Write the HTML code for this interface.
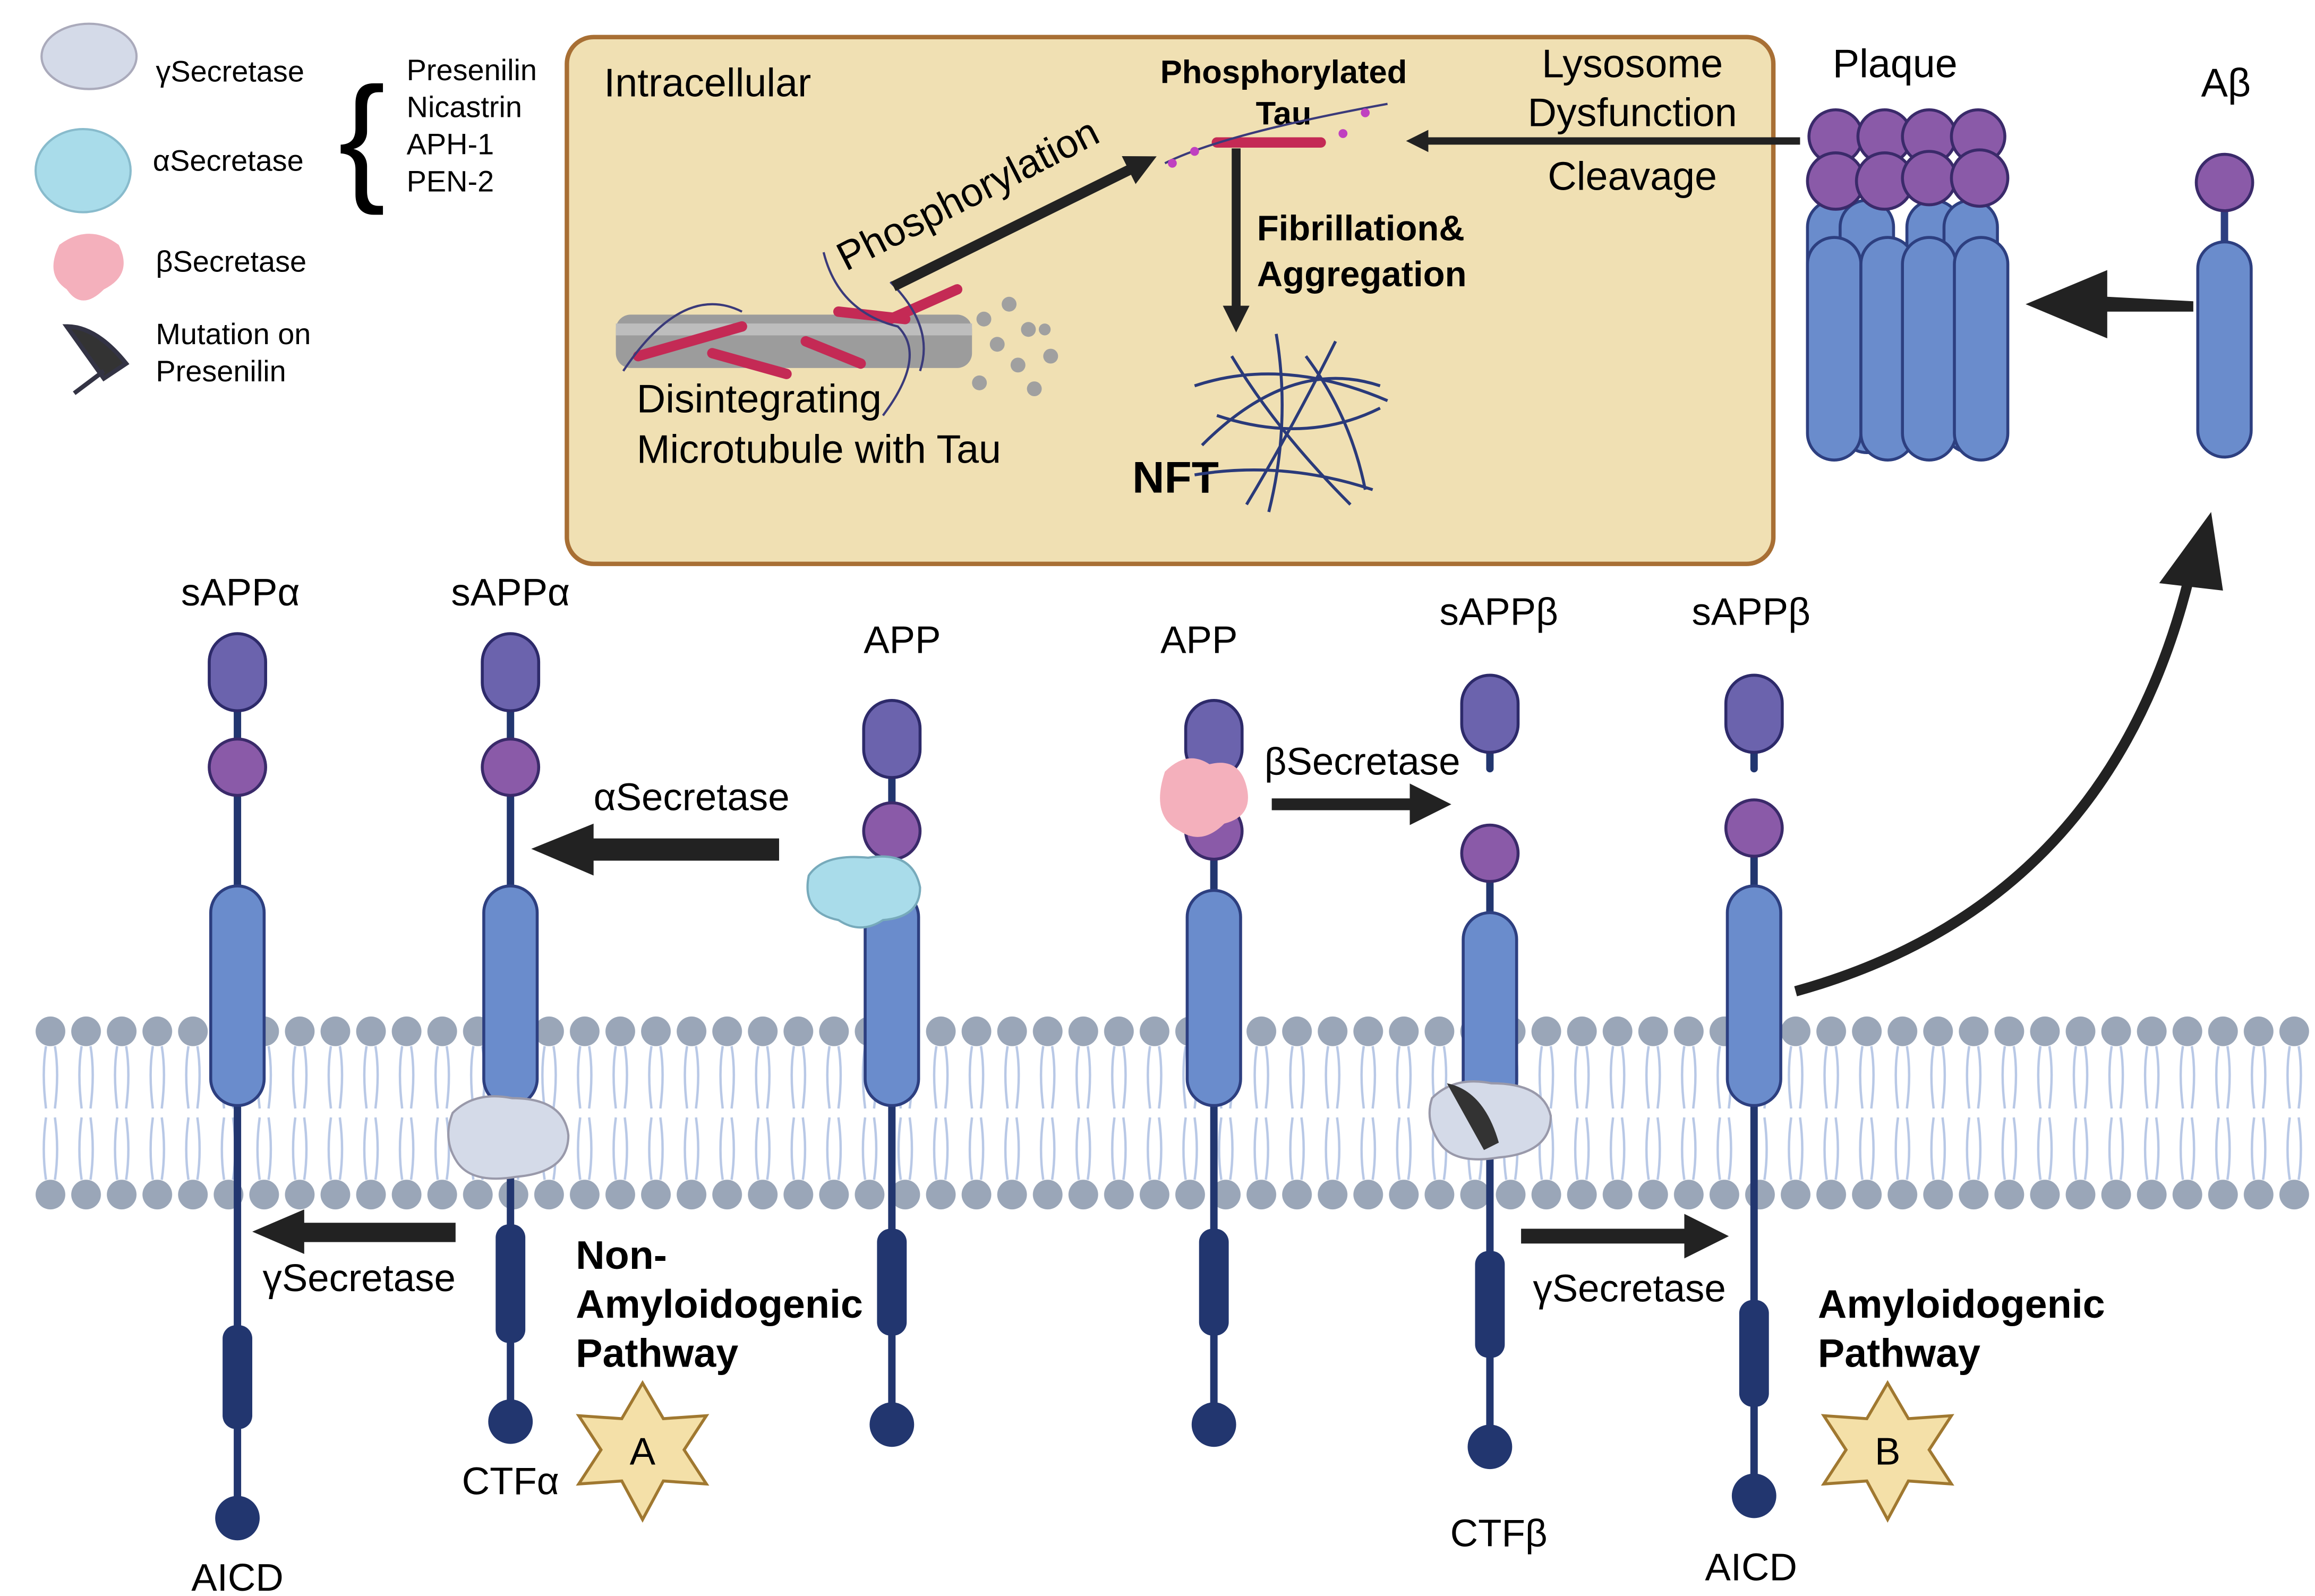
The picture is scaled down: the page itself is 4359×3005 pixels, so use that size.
<!DOCTYPE html>
<html><head><meta charset="utf-8"><style>html,body{margin:0;padding:0;background:#fff}svg{display:block}text{font-family:"Liberation Sans",sans-serif}</style></head>
<body>
<svg width="4359" height="3005" viewBox="0 0 1560 1075.5" preserveAspectRatio="none" xmlns="http://www.w3.org/2000/svg">
<defs>
<pattern id="mem" x="22" y="0" width="24" height="1075.5" patternUnits="userSpaceOnUse">
<path d="M9,705 q-3,18 0,42 M15,705 q3,18 0,42 M9,753 q-3,22 0,42 M15,753 q3,22 0,42" stroke="#b8c8e6" stroke-width="1.6" fill="none"/>
<circle cx="12" cy="695" r="10" fill="#9aa6b8"/>
<circle cx="12" cy="805" r="10" fill="#9aa6b8"/>
</pattern>
<marker id="ah" viewBox="0 0 10 10" refX="5" refY="5" markerWidth="3" markerHeight="3" orient="auto"><path d="M0,0L10,5L0,10z" fill="#222"/></marker>
</defs>
<rect x="0" y="0" width="1560" height="1075.5" fill="#fff"/>
<!-- intracellular box -->
<rect x="382" y="25" width="813" height="355" rx="18" fill="#f0e0b3" stroke="#a86f34" stroke-width="3"/>
<text x="407" y="65" font-size="27">Intracellular</text>
<text x="865" y="56" font-size="22" font-weight="bold" text-anchor="middle">Phosphorylated</text>
<text x="865" y="84" font-size="22" font-weight="bold" text-anchor="middle">Tau</text>
<text x="1100" y="52" font-size="27" text-anchor="middle">Lysosome</text>
<text x="1100" y="85" font-size="27" text-anchor="middle">Dysfunction</text>
<text x="1100" y="128" font-size="27" text-anchor="middle">Cleavage</text>
<text x="847" y="162" font-size="24" font-weight="bold">Fibrillation&amp;</text>
<text x="847" y="193" font-size="24" font-weight="bold">Aggregation</text>
<text x="429" y="278" font-size="27">Disintegrating</text>
<text x="429" y="312" font-size="27">Microtubule with Tau</text>
<text x="763" y="332" font-size="30" font-weight="bold">NFT</text>
<text x="0" y="0" font-size="27" transform="translate(570,183) rotate(-27)">Phosphorylation</text>
<!-- microtubule -->
<rect x="415" y="212" width="240" height="36" rx="10" fill="#9c9c9c"/>
<rect x="415" y="218" width="240" height="8" fill="#bdbdbd"/>
<g fill="#a0a0a0"><circle cx="663" cy="215" r="5"/><circle cx="680" cy="205" r="5"/><circle cx="672" cy="232" r="5"/><circle cx="693" cy="222" r="5"/><circle cx="686" cy="246" r="5"/><circle cx="708" cy="240" r="5"/><circle cx="660" cy="258" r="5"/><circle cx="697" cy="262" r="5"/><circle cx="704" cy="222" r="4"/></g>
<g stroke="#c42a55" stroke-width="7" stroke-linecap="round"><line x1="430" y1="240" x2="500" y2="220"/><line x1="480" y1="238" x2="530" y2="252"/><line x1="543" y1="230" x2="580" y2="245"/><line x1="565" y1="210" x2="610" y2="215"/><line x1="600" y1="215" x2="645" y2="195"/><line x1="820" y1="96" x2="890" y2="96"/></g>
<path d="M420,250 q40,-60 80,-40 M555,170 q10,40 50,50 q20,20 -10,60 M600,190 q30,30 20,60 M785,110 q40,-20 150,-40" stroke="#3a3a7a" stroke-width="1.5" fill="none"/>
<g fill="#c040c0"><circle cx="790" cy="110" r="3"/><circle cx="805" cy="102" r="3"/><circle cx="905" cy="90" r="3"/><circle cx="920" cy="76" r="3"/></g>
<!-- NFT tangle -->
<g stroke="#2a3a7a" stroke-width="2" fill="none"><path d="M805,260 q60,-20 130,10 M810,300 q60,-60 120,-40 M830,240 q30,50 80,100 M900,230 q-30,60 -60,110 M820,280 q60,20 110,-5 M860,225 q10,60 -5,120 M805,320 q60,-10 120,10 M880,240 q30,40 40,90"/></g>
<!-- tau arrows -->
<line x1="602" y1="193" x2="770" y2="110" stroke="#222" stroke-width="7" marker-end="url(#ah)"/>
<line x1="1213" y1="95" x2="955" y2="95" stroke="#222" stroke-width="5" marker-end="url(#ah)"/>
<line x1="833" y1="100" x2="833" y2="215" stroke="#222" stroke-width="6" marker-end="url(#ah)"/>
<!-- legend -->
<ellipse cx="60" cy="38" rx="32" ry="22" fill="#d4dae8" stroke="#aab" stroke-width="1.5"/>
<text x="105" y="55" font-size="20">γSecretase</text>
<ellipse cx="56" cy="115" rx="32" ry="28" fill="#a9dcea" stroke="#8bc" stroke-width="1.5"/>
<text x="103" y="115" font-size="20">αSecretase</text>
<path d="M40,165 q20,-15 40,0 q10,20 -10,30 q-15,15 -25,0 q-15,-10 -5,-30z" fill="#f4b0bc"/>
<text x="105" y="183" font-size="20">βSecretase</text>
<path d="M45,220 q20,0 40,25 l-15,10 z M70,250 l-20,15" stroke="#334" stroke-width="3" fill="#333"/>
<text x="105" y="232" font-size="20">Mutation on</text>
<text x="105" y="257" font-size="20">Presenilin</text>
<text x="228" y="125" font-size="95" font-weight="300">{</text>
<text x="274" y="54" font-size="20">Presenilin</text>
<text x="274" y="79" font-size="20">Nicastrin</text>
<text x="274" y="104" font-size="20">APH-1</text>
<text x="274" y="129" font-size="20">PEN-2</text>
<!-- plaque -->
<g fill="#6a8ccc" stroke="#2d3f80" stroke-width="2">
<rect x="1218" y="135" width="36" height="170" rx="18"/><rect x="1240" y="135" width="36" height="170" rx="18"/><rect x="1285" y="135" width="36" height="170" rx="18"/><rect x="1310" y="135" width="36" height="170" rx="18"/>
<rect x="1218" y="160" width="36" height="150" rx="18"/><rect x="1254" y="160" width="36" height="150" rx="18"/><rect x="1282" y="160" width="36" height="150" rx="18"/><rect x="1317" y="160" width="36" height="150" rx="18"/>
</g>
<g fill="#8a5aa8" stroke="#3a2a6a" stroke-width="2">
<circle cx="1237" cy="92" r="18"/><circle cx="1270" cy="92" r="18"/><circle cx="1300" cy="92" r="18"/><circle cx="1333" cy="92" r="18"/>
<circle cx="1237" cy="122" r="19"/><circle cx="1270" cy="122" r="19"/><circle cx="1300" cy="120" r="18"/><circle cx="1334" cy="120" r="19"/>
</g>
<text x="1277" y="52" font-size="27" text-anchor="middle">Plaque</text>
<text x="1500" y="65" font-size="27" text-anchor="middle">Aβ</text>
<line x1="1499" y1="140" x2="1499" y2="165" stroke="#2d3f80" stroke-width="5"/>
<circle cx="1499" cy="123" r="19" fill="#8a5aa8" stroke="#3a2a6a" stroke-width="2"/>
<rect x="1481" y="163" width="36" height="145" rx="18" fill="#6a8ccc" stroke="#2d3f80" stroke-width="2"/>
<path d="M1478,203 L1420,200 L1420,182 L1365,205 L1420,228 L1420,210 L1478,210z" fill="#222"/>
<!-- curved arrow -->
<path d="M1210,668 Q1420,610 1475,390" stroke="#222" stroke-width="7" fill="none"/>
<path d="M1455,393 L1490,345 L1498,398z" fill="#222"/>
<!-- membrane -->
<rect x="22" y="680" width="1536" height="140" fill="url(#mem)"/>
<!-- columns -->
<g stroke="#22366f" stroke-width="5" stroke-linecap="round">
<line x1="160" y1="470" x2="160" y2="1020"/><line x1="344" y1="470" x2="344" y2="955"/>
<line x1="601" y1="520" x2="601" y2="958"/><line x1="818" y1="520" x2="818" y2="958"/>
<line x1="1004" y1="500" x2="1004" y2="518"/><line x1="1004" y1="590" x2="1004" y2="972"/>
<line x1="1182" y1="500" x2="1182" y2="518"/><line x1="1182" y1="575" x2="1182" y2="1005"/>
</g>
<g fill="#22366f">
<circle cx="160" cy="1023" r="15"/><rect x="150" y="893" width="20" height="70" rx="9"/>
<circle cx="344" cy="958" r="15"/><rect x="334" y="825" width="20" height="80" rx="9"/>
<circle cx="601" cy="960" r="15"/><rect x="591" y="828" width="20" height="72" rx="9"/>
<circle cx="818" cy="960" r="15"/><rect x="808" y="828" width="20" height="72" rx="9"/>
<circle cx="1004" cy="975" r="15"/><rect x="994" y="843" width="20" height="72" rx="9"/>
<circle cx="1182" cy="1008" r="15"/><rect x="1172" y="876" width="20" height="72" rx="9"/>
</g>
<g fill="#6b63ad" stroke="#2d2a6a" stroke-width="2">
<rect x="141" y="427" width="38" height="52" rx="19"/><rect x="325" y="427" width="38" height="52" rx="19"/>
<rect x="582" y="472" width="38" height="52" rx="19"/><rect x="799" y="472" width="38" height="52" rx="19"/>
<rect x="985" y="455" width="38" height="52" rx="19"/><rect x="1163" y="455" width="38" height="52" rx="19"/>
</g>
<g fill="#8a5aa8" stroke="#3a2a6a" stroke-width="2">
<circle cx="160" cy="517" r="19"/><circle cx="344" cy="517" r="19"/><circle cx="601" cy="560" r="19"/><circle cx="818" cy="560" r="19"/><circle cx="1004" cy="575" r="19"/><circle cx="1182" cy="558" r="19"/>
</g>
<g fill="#6a8ccc" stroke="#2d3f80" stroke-width="2">
<rect x="142" y="597" width="36" height="148" rx="18"/><rect x="326" y="597" width="36" height="148" rx="18"/>
<rect x="583" y="600" width="36" height="145" rx="18"/><rect x="800" y="600" width="36" height="145" rx="18"/>
<rect x="986" y="615" width="36" height="132" rx="18"/><rect x="1164" y="597" width="36" height="148" rx="18"/>
</g>
<!-- secretases on columns -->
<path d="M545,590 q10,-15 40,-12 q30,-5 35,20 q0,20 -25,22 q-15,10 -30,0 q-25,-5 -20,-30z" fill="#a9dcea" stroke="#7ab" stroke-width="1.5"/>
<path d="M785,520 q15,-15 30,-5 q20,-5 25,15 q5,20 -15,25 q-15,15 -30,5 q-20,-10 -10,-40z" fill="#f4b0bc"/>
<path d="M305,750 q15,-15 40,-10 q35,0 38,25 q0,25 -35,28 q-30,5 -40,-10 q-10,-15 -3,-33z" fill="#d4dae8" stroke="#99a" stroke-width="1.5"/>
<path d="M965,740 q15,-15 40,-10 q35,0 40,22 q0,25 -35,28 q-30,5 -40,-10 q-10,-15 -5,-30z" fill="#d4dae8" stroke="#99a" stroke-width="1.5"/>
<path d="M975,730 q25,5 35,40 l-10,5 z" fill="#333"/>
<!-- membrane arrows -->
<path d="M525,565 L400,565 L400,555 L358,572 L400,590 L400,580 L525,580z" fill="#222"/>
<path d="M307,824 L205,824 L205,815 L170,830 L205,845 L205,837 L307,837z" fill="#222"/>
<path d="M857,538 L950,538 L950,528 L978,542 L950,556 L950,546 L857,546z" fill="#222"/>
<path d="M1025,828 L1135,828 L1135,818 L1165,833 L1135,848 L1135,838 L1025,838z" fill="#222"/>
<!-- labels -->
<g font-size="26" text-anchor="middle">
<text x="162" y="408">sAPPα</text><text x="344" y="408">sAPPα</text>
<text x="608" y="440">APP</text><text x="808" y="440">APP</text>
<text x="1010" y="421">sAPPβ</text><text x="1180" y="421">sAPPβ</text>
<text x="466" y="546">αSecretase</text><text x="918" y="522">βSecretase</text>
<text x="242" y="870">γSecretase</text><text x="1098" y="877">γSecretase</text>
<text x="344" y="1007">CTFα</text><text x="1010" y="1042">CTFβ</text>
<text x="160" y="1072">AICD</text><text x="1180" y="1065">AICD</text>
</g>
<g font-size="27" font-weight="bold">
<text x="388" y="855">Non-</text><text x="388" y="888">Amyloidogenic</text><text x="388" y="921">Pathway</text>
<text x="1225" y="888">Amyloidogenic</text><text x="1225" y="921">Pathway</text>
</g>
<!-- stars -->
<g fill="#f4e0a8" stroke="#a07830" stroke-width="2">
<polygon points="433,932 447,956 476,954 461,977 476,1000 447,998 433,1024 419,998 390,1000 405,977 390,954 419,956"/>
<polygon points="1272,932 1286,956 1315,954 1300,977 1315,1000 1286,998 1272,1024 1258,998 1229,1000 1244,977 1229,954 1258,956"/>
</g>
<text x="433" y="987" font-size="26" text-anchor="middle">A</text>
<text x="1272" y="987" font-size="26" text-anchor="middle">B</text>
</svg>
</body></html>
